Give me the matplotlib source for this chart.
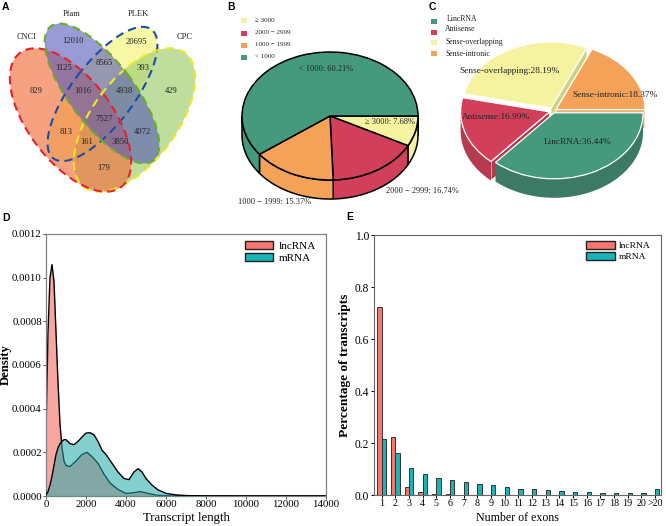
import numpy as np
import matplotlib
matplotlib.use("Agg")
import matplotlib.pyplot as plt
from matplotlib.patches import Ellipse, Rectangle

plt.rcParams['font.family'] = ['Liberation Serif', 'DejaVu Sans']

W, H = 666, 526

# panel A
venn_names = ['CNCI', 'Pfam', 'PLEK', 'CPC']
venn_counts = [12010, 20695, 1125, 8565, 393, 829, 1016, 4938, 429, 7527, 813, 4072, 161, 3850, 179]

# panel B
len_names = ['\u2265 3000', '2000 \u2212 2999', '1000 \u2212 1999', '< 1000']
len_pct = [7.68, 16.74, 15.37, 60.21]

# panel C
type_names = ['LincRNA', 'Antisense', 'Sense-overlapping', 'Sense-intronic']
type_pct = [36.44, 16.99, 28.19, 18.37]

# panel D
lnc_x = [0, 50, 100, 200, 300, 400, 500, 600, 700, 800, 900, 1000, 1200, 1500, 1800, 2050, 2300, 2600, 2900,
         3200, 3600, 4000, 4300, 4700, 5000, 5500, 6000, 7000, 14000]
lnc_y = [.00029, .00052, .00075, .00100, .00106, .00098, .00075, .00052, .00033, .00022, .00016, .00014,
         .000135, .00016, .00019, .00020, .00018, .00015, .00010, .00006, .00003, .000012, .000014, .00002,
         .000014, .000004, .000001, 0, 0]
mrna_x = [0, 100, 200, 300, 400, 500, 600, 700, 800, 900, 1000, 1200, 1400, 1600, 1800, 2000, 2200, 2400, 2600,
          2800, 3000, 3300, 3600, 3900, 4150, 4400, 4600, 4800, 5000, 5300, 5600, 6000, 6500, 7000, 8000, 10000, 14000]
mrna_y = [.000005, .00002, .00005, .00009, .00014, .00019, .00022, .00024, .00025, .000258, .000258, .00024,
          .000235, .00025, .00027, .000288, .00029, .00028, .00025, .00021, .00019, .00015, .00011, .00008,
          .000075, .00011, .000125, .00011, .00008, .00005, .000028, .000012, .000005, .000002, .0000005, 0, 0]

# panel E
exon_labels = [str(i) for i in range(1, 21)] + ['>20']
exon_lnc = [.725, .222, .032, .013, .005, .003, .001, .001, .0005, .0005, 0, 0, 0, 0, 0, 0, 0, 0, 0, 0, 0]
exon_mrna = [.217, .162, .103, .082, .067, .058, .051, .044, .038, .032, .024, .023, .02, .016, .012, .01, .009,
             .008, .007, .006, .022]

GREEN, RED, YELLOW, ORANGE = '#459a7e', '#d23f5b', '#f5f2a0', '#f5a259'
SALMON, TEAL = '#f8766d', '#17b5b8'


def px_axes(fig, left, right, top, bottom):
    return fig.add_axes([left / W, 1 - bottom / H, (right - left) / W, (bottom - top) / H])


def pie3d(fig, cx, cy, rx, ry, depth, vals, colors, sides, explode, edge, lw):
    d = depth / ry
    ax = px_axes(fig, cx - 1.2 * rx, cx + 1.2 * rx, cy - 1.2 * ry, cy + 1.2 * ry + depth)
    ax.pie(vals, colors=colors, explode=explode, startangle=0, counterclock=False,
           wedgeprops={'edgecolor': edge, 'linewidth': lw, 'zorder': 5})
    ax.set_aspect('auto')
    ax.set_xlim(-1.2, 1.2)
    ax.set_ylim(-1.2 - d, 1.2)
    ax.axis('off')
    ang = 0
    for i, v in enumerate(vals):
        a0, a1 = ang, ang + v * 3.6
        ang = a1
        mid = np.radians((a0 + a1) / 2)
        ox, oy = explode[i] * np.cos(mid), -explode[i] * np.sin(mid)
        # cut faces, only the ones turned to the viewer
        for a, sign in ((a0, -1), (a1, 1)):
            t = np.radians(a)
            if sign * np.cos(t) > 0 and (sign > 0 or a < 180):
                xs = [ox, ox + np.cos(t), ox + np.cos(t), ox]
                ys = [oy, oy - np.sin(t), oy - np.sin(t) - d, oy - d]
                ax.fill(xs, ys, facecolor=sides[i], edgecolor=edge, lw=.7, zorder=2)
        # outer rim
        lo, hi = max(a0, 0), min(a1, 180)
        if hi > lo:
            t = np.radians(np.linspace(lo, hi, 60))
            xs = np.r_[ox + np.cos(t), ox + np.cos(t[::-1])]
            ys = np.r_[oy - np.sin(t), oy - np.sin(t[::-1]) - d]
            ax.fill(xs, ys, facecolor=sides[i], edgecolor=edge if lw > 1 else 'none', lw=lw, zorder=3)
    return ax


fig = plt.figure(figsize=(W / 100, H / 100), dpi=100)

# B and C pies
pie3d(fig, 330, 116, 88, 64, 19, len_pct, [YELLOW, RED, ORANGE, GREEN], [YELLOW, RED, ORANGE, GREEN],
      [0, 0, 0, 0], 'black', 1.1)
pie3d(fig, 553, 111, 89, 66, 19, type_pct, [GREEN, RED, YELLOW, ORANGE], ['#3d7a66', '#b53a4e', '#cfcf85', '#f0b070'],
      [.03, .04, .05, .04], 'white', 0.9)

# D density
ax = px_axes(fig, 46, 326, 234, 496)
ax.fill_between(lnc_x, lnc_y, color=SALMON, alpha=.65, lw=0, zorder=1)
ax.plot(lnc_x, lnc_y, color='black', lw=1, zorder=2)
ax.fill_between(mrna_x, mrna_y, color='#1fa8a8', alpha=.55, lw=0, zorder=3)
ax.plot(mrna_x, mrna_y, color='black', lw=1, zorder=4)
ax.set_xlim(0, 14000)
ax.set_ylim(0, .0012)
ax.set_xticks(range(0, 14001, 2000))
ax.set_yticks(np.arange(0, .00121, .0002))
ax.set_yticklabels(['%.4f' % t for t in np.arange(0, .00121, .0002)])
ax.tick_params(labelsize=7.8, length=2, width=.7, pad=1, color='#555555')
ax.set_xlabel('Transcript length', fontsize=9.2, labelpad=2)
ax.set_ylabel('Density', fontsize=9.2, fontweight='bold')
ax.yaxis.set_label_coords(-.122, .5)
for s in ax.spines.values():
    s.set_color('#808080')
    s.set_linewidth(.9)
h = [Rectangle((0, 0), 1, 1, fc=SALMON, ec='#222222', lw=1), Rectangle((0, 0), 1, 1, fc=TEAL, ec='#222222', lw=1)]
ax.legend(h, ['lncRNA', 'mRNA'], loc='upper right', frameon=False, fontsize=8, handlelength=2.6, handleheight=.75,
          labelspacing=.2, handletextpad=.5, borderaxespad=.1, bbox_to_anchor=(.985, .995))

# E exons
ax = px_axes(fig, 374, 661, 235, 495)
pos = np.arange(len(exon_labels))
bw = .32
ax.bar(pos - bw / 2, exon_lnc, bw, color=SALMON, edgecolor='#333333', lw=.7)
ax.bar(pos + bw / 2, exon_mrna, bw, color=TEAL, edgecolor='#333333', lw=.7)
ax.set_xlim(-.56, 20.44)
ax.set_ylim(0, 1)
ax.set_xticks(pos)
ax.set_xticklabels(exon_labels)
ax.set_yticks(np.arange(0, 1.01, .2))
ax.tick_params(axis='y', labelsize=8.3, length=2, width=.7, pad=1.5)
ax.tick_params(axis='x', labelsize=7.2, length=2, width=.7, pad=1)
ax.set_xlabel('Number of exons', fontsize=8.6, labelpad=3)
ax.set_ylabel('Percentage of transcripts', fontsize=9.6, fontweight='bold')
ax.yaxis.set_label_coords(-.08, .5)
for s in ax.spines.values():
    s.set_color('#666666')
    s.set_linewidth(.8)
h = [Rectangle((0, 0), 1, 1, fc=SALMON, ec='#222222', lw=1), Rectangle((0, 0), 1, 1, fc=TEAL, ec='#222222', lw=1)]
ax.legend(h, ['lncRNA', 'mRNA'], loc='upper right', frameon=False, fontsize=6.8, handlelength=3, handleheight=.95,
          labelspacing=.15, handletextpad=.45, borderaxespad=.1, bbox_to_anchor=(.98, .995))

# overlay in pixel coordinates: venn, labels
ov = fig.add_axes([0, 0, 1, 1], facecolor='none')
ov.set_xlim(0, W)
ov.set_ylim(H, 0)
ov.axis('off')

venn_shapes = [
    ((102.5, 94), 162, 62, -52.7, '#f5f590', .8, '#1a4fa8'),
    ((134.5, 120), 168, 84, -53, '#a5d075', .7, '#f2e81c'),
    ((70.5, 120), 168, 84, 53, '#f2703c', .65, '#e8202a'),
    ((102, 93.5), 169, 64, 52.6, '#5558b8', .6, '#6aad2a'),
]
for c, w, hh, ang, fc, a, ec in venn_shapes:
    ov.add_patch(Ellipse(c, w, hh, angle=ang, facecolor=fc, alpha=a, edgecolor='none'))
for c, w, hh, ang, fc, a, ec in venn_shapes:
    ov.add_patch(Ellipse(c, w, hh, angle=ang, facecolor='none', edgecolor=ec, lw=1.5, linestyle=(0, (4, 2.5))))

venn_name_xy = [(27, 37), (72, 14), (138, 14), (185, 37)]
for n, (x, y) in zip(venn_names, venn_name_xy):
    ov.text(x, y, n, fontsize=6, ha='center', va='center', color='#222222')
venn_xy = [(73, 41), (136, 42), (64, 68), (104, 63), (143, 68), (36, 91), (83, 91), (125, 91), (171, 91), (104, 119),
           (66, 132), (142, 132), (87, 142), (120, 142), (104, 168)]
for n, (x, y) in zip(venn_counts, venn_xy):
    ov.text(x, y, str(n), fontsize=6.2, ha='center', va='center', color='#222222')

# B legend / labels
for n, c, sy, ty in zip(len_names, [YELLOW, RED, ORANGE, GREEN], [20, 33, 45, 57], [21, 33, 45, 57]):
    ov.add_patch(Rectangle((241, sy - 2.5), 6, 5, color=c, lw=0))
    ov.text(255, ty, n, fontsize=5, ha='left', va='center', color='#222222')
b_xy = [(390, 122), (422, 191), (274, 202), (326, 69)]
for n, v, (x, y) in zip(len_names, len_pct, b_xy):
    ov.text(x, y, '%s: %.2f%%' % (n, v), fontsize=6, ha='center', va='center', color='#222222')

# C legend / labels
for n, c, sy, ty, tx in zip(type_names, [GREEN, RED, YELLOW, ORANGE], [21, 32, 42, 53], [19, 29, 42, 54],
                            [447, 445, 445, 445]):
    ov.add_patch(Rectangle((431, sy - 2.5), 6, 5, color=c, lw=0))
    ov.text(tx, ty, n, fontsize=5.6, ha='left', va='center', color='#222222')
c_xy = [(578, 142), (496, 117), (510, 71), (615, 95)]
for n, v, (x, y) in zip(type_names, type_pct, c_xy):
    ov.text(x, y, '%s:%.2f%%' % (n, v), fontsize=6.7, ha='center', va='center', color='#222222')

# panel letters
for n, x, y in [('A', 2, 7), ('B', 227, 7), ('C', 429, 7), ('D', 2, 218), ('E', 346, 217)]:
    ov.text(x, y, n, fontsize=7.5, fontweight='bold', family='Liberation Sans', ha='left', va='center')

fig.savefig('out.png', dpi=100)
